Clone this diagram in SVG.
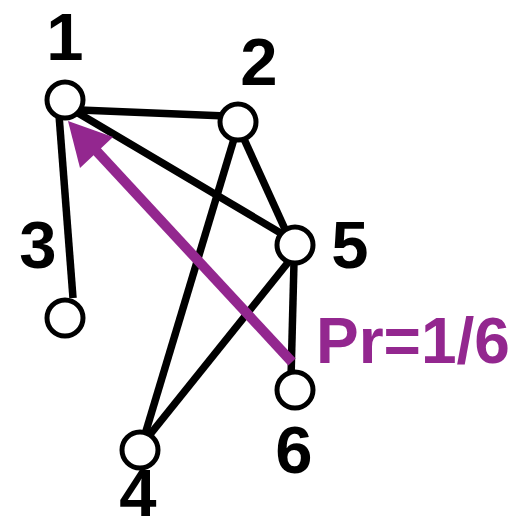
<svg xmlns="http://www.w3.org/2000/svg" width="532" height="522" viewBox="0 0 532 522">
<style>
.node{fill:#fff;stroke:#000;stroke-width:5}
.edge{stroke:#000;stroke-width:7.5;fill:none}
.lbl{font-family:"Liberation Sans",Arial,sans-serif;font-weight:bold;font-size:67px;fill:#000;text-anchor:middle}
.pr{font-family:"Liberation Sans",Arial,sans-serif;font-weight:bold;font-size:64px;fill:#93278F}
</style>
<rect width="532" height="522" fill="#fff"/>
<g id="connectors">
<line class="edge" x1="59" y1="115" x2="73" y2="298"/>
<line class="edge" x1="80" y1="110" x2="226" y2="116"/>
<line class="edge" x1="78" y1="113" x2="289" y2="238"/>
<line class="edge" x1="244" y1="139" x2="289" y2="238"/>
<line class="edge" x1="234" y1="139" x2="143" y2="441"/>
<line class="edge" x1="148" y1="437" x2="290" y2="260"/>
<line class="edge" x1="294" y1="262" x2="291" y2="378"/>
<g id="arrow">
<line x1="292" y1="362" x2="90" y2="144" stroke="#93278F" stroke-width="10"/>
<polygon points="68,121 80,168 113,137" fill="#93278F"/>
</g>
</g>
<g id="n1"><circle class="node" cx="65" cy="100" r="18"/><text class="lbl" x="65" y="60">1</text></g>
<g id="n2"><circle class="node" cx="238" cy="122" r="18"/><text class="lbl" x="259" y="85">2</text></g>
<g id="n3"><circle class="node" cx="65" cy="318" r="18"/><text class="lbl" x="38" y="268">3</text></g>
<g id="n4"><circle class="node" cx="140" cy="450" r="18"/><text class="lbl" x="138" y="516">4</text></g>
<g id="n5"><circle class="node" cx="295" cy="245" r="18"/><text class="lbl" x="350" y="268">5</text></g>
<g id="n6"><circle class="node" cx="295" cy="390" r="18"/><text class="lbl" x="294" y="473">6</text></g>
<text class="pr" x="316" y="363">Pr=1/6</text>
</svg>
